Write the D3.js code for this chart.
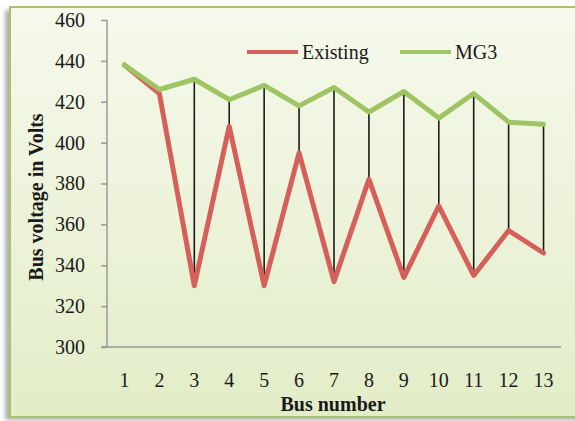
<!DOCTYPE html>
<html>
<head>
<meta charset="utf-8">
<script src="https://cdn.jsdelivr.net/npm/d3@7"></script>
<style>
  html, body { margin: 0; padding: 0; background: #ffffff; }
  svg { display: block; }
  text { font-family: "Liberation Serif", "Times New Roman", serif; fill: #1a1a1a; }
</style>
</head>
<body>
<svg id="chart" width="575" height="421"></svg>
<script>
// Bus voltages (V) for buses 1–13
const buses = ["1","2","3","4","5","6","7","8","9","10","11","12","13"];
const existing = [438, 424, 330, 408, 330, 395, 332, 382, 334, 369, 335, 357, 346];
const mg3 = [438, 426, 431, 421, 428, 418, 427, 415, 425, 412, 424, 410, 409];
const yTicks = [300, 320, 340, 360, 380, 400, 420, 440, 460];
const seriesNames = ["Existing", "MG3"];

const svg = d3.select("#chart");
const defs = svg.append("defs");

const grad = defs.append("linearGradient")
  .attr("id", "bg").attr("x1", 0).attr("y1", 0).attr("x2", 0).attr("y2", 1);
grad.append("stop").attr("offset", "0%").attr("stop-color", "#f6f9ec");
grad.append("stop").attr("offset", "100%").attr("stop-color", "#e3edc8");

const blur = defs.append("filter").attr("id", "shadow")
  .attr("x", "-10%").attr("y", "-10%").attr("width", "120%").attr("height", "120%");
blur.append("feGaussianBlur").attr("stdDeviation", 2);

// Chart frame with soft shadow
svg.append("rect")
  .attr("x", 5).attr("y", 10).attr("width", 600).attr("height", 410)
  .attr("fill", "#b0b0b0").attr("filter", "url(#shadow)");
svg.append("rect")
  .attr("x", 10).attr("y", 7).attr("width", 600).attr("height", 410)
  .attr("fill", "url(#bg)").attr("stroke", "#a6c46c").attr("stroke-width", 2);

const x = d3.scaleBand().domain(buses).range([107, 561]);
const y = d3.scaleLinear().domain([300, 460]).range([347, 20]);
const cx = d => x(d) + x.bandwidth() / 2;
const fontSize = 20;

// Y axis
const yAxis = svg.append("g").attr("transform", "translate(107,0)")
  .call(d3.axisLeft(y).tickValues(yTicks).tickSize(6).tickPadding(16).tickFormat(d3.format("d")));
yAxis.select(".domain").attr("stroke", "#9a9a9a").attr("stroke-width", 1.5)
  .attr("d", "M0,20V347");
yAxis.selectAll(".tick line").attr("stroke", "#9a9a9a").attr("stroke-width", 1.5);
yAxis.selectAll(".tick text").attr("font-size", fontSize).attr("fill", "#1a1a1a")
  .attr("font-family", "'Liberation Serif', serif");

// X axis
const xAxis = svg.append("g").attr("transform", "translate(0,347)")
  .call(d3.axisBottom(x).tickSize(0).tickPadding(26));
xAxis.select(".domain").attr("stroke", "#9a9a9a").attr("stroke-width", 1.5)
  .attr("d", "M101,0H561");
xAxis.selectAll(".tick text").attr("font-size", fontSize).attr("fill", "#1a1a1a")
  .attr("font-family", "'Liberation Serif', serif");

// High-low lines between the two series
svg.append("g").selectAll("line")
  .data(buses)
  .join("line")
  .attr("x1", (d) => cx(d)).attr("x2", (d) => cx(d))
  .attr("y1", (d, i) => y(mg3[i])).attr("y2", (d, i) => y(existing[i]))
  .attr("stroke", "#1a1a1a").attr("stroke-width", 1.6);

const line = d3.line().x((d, i) => cx(buses[i])).y(d => y(d));

svg.append("path").datum(existing)
  .attr("d", line).attr("fill", "none")
  .attr("stroke", "#d5605a").attr("stroke-width", 5)
  .attr("stroke-linejoin", "round").attr("stroke-linecap", "round");

svg.append("path").datum(mg3)
  .attr("d", line).attr("fill", "none")
  .attr("stroke", "#9fc464").attr("stroke-width", 5)
  .attr("stroke-linejoin", "round").attr("stroke-linecap", "round");

// Legend
const legendColors = ["#d5605a", "#9fc464"];
const legendX = [247, 400];
const legend = svg.append("g");
seriesNames.forEach((name, i) => {
  legend.append("line")
    .attr("x1", legendX[i]).attr("x2", legendX[i] + 51)
    .attr("y1", 52).attr("y2", 52)
    .attr("stroke", legendColors[i]).attr("stroke-width", 4);
  legend.append("text")
    .attr("x", legendX[i] + 55).attr("y", 59)
    .attr("font-size", fontSize).text(name);
});

// Axis titles
svg.append("text")
  .attr("transform", "translate(43,197) rotate(-90)")
  .attr("text-anchor", "middle").attr("font-size", fontSize).attr("font-weight", "bold")
  .text("Bus voltage in Volts");
svg.append("text")
  .attr("x", 333).attr("y", 411)
  .attr("text-anchor", "middle").attr("font-size", fontSize).attr("font-weight", "bold")
  .text("Bus number");
</script>
</body>
</html>
